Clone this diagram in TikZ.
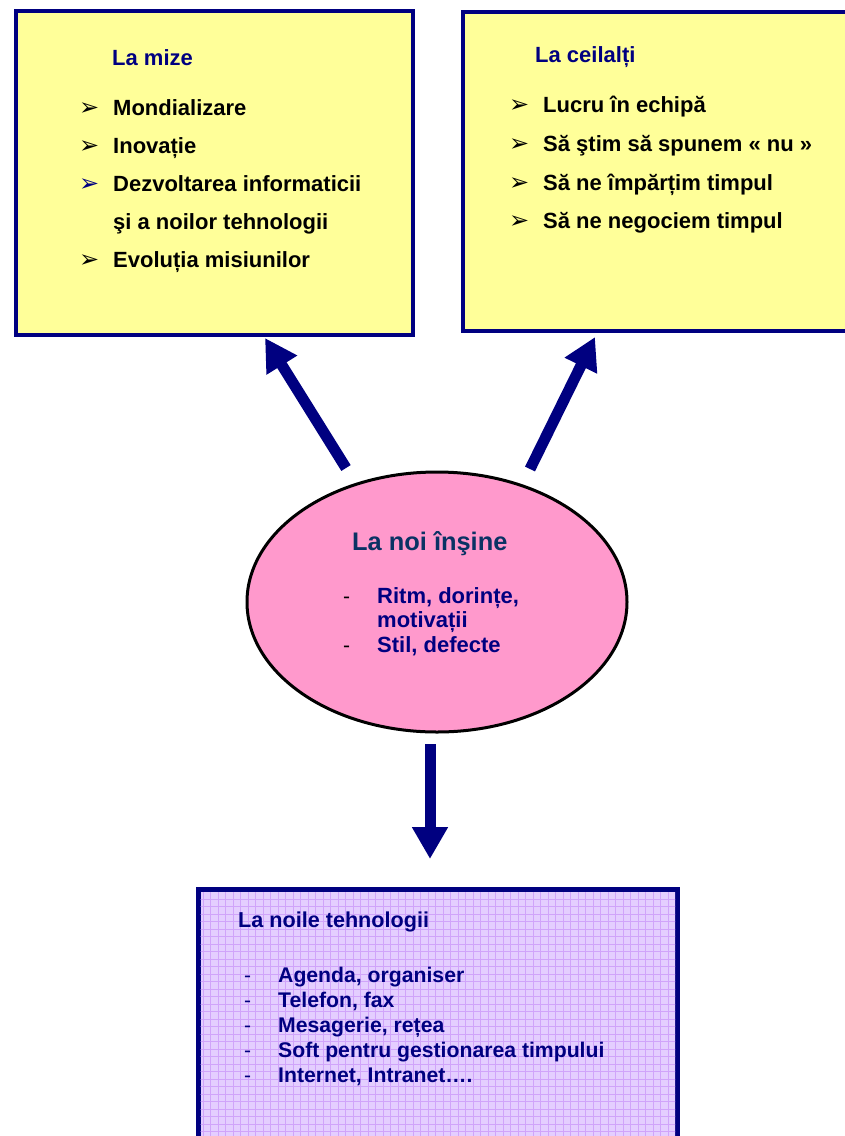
\documentclass[tikz,border=0pt]{standalone}
\usepackage{fontspec}
\setmainfont{Liberation Sans}
\newfontfamily\dvfont{DejaVu Sans}
\usetikzlibrary{shapes.geometric,arrows.meta}
\definecolor{navy}{RGB}{0,0,128}
\definecolor{ylw}{RGB}{255,255,153}
\definecolor{pinkf}{RGB}{255,153,204}
\definecolor{lav}{RGB}{228,206,255}
\definecolor{gridc}{RGB}{208,164,250}
\definecolor{tealnavy}{RGB}{10,50,100}
\begin{document}
\begin{tikzpicture}[x=1pt,y=-1pt,
 ybox/.style={draw=navy, line width=4pt, fill=ylw, inner sep=0pt},
 txt/.style={anchor=base west, inner sep=0pt, font=\fontsize{22}{26}\selectfont\bfseries},
 txtb/.style={anchor=base west, inner sep=0pt, font=\fontsize{21.2}{25}\selectfont\bfseries},
 bul/.style={anchor=base west, inner sep=0pt, font=\dvfont\fontsize{24}{28}\selectfont},
 dsh/.style={anchor=base west, inner sep=0pt, font=\fontsize{21}{25}\selectfont},
 arr/.style={navy, line width=11pt, -{Triangle[length=32pt,width=34pt]}},
]
\useasboundingbox (0,0) rectangle (845,1136);
\clip (0,0) rectangle (845,1136);

% boxes
\node[ybox, minimum width=397pt, minimum height=324pt] (mize) at (214.5,173) {};
\node[ybox, minimum width=400pt, minimum height=318.5pt] (ceil) at (663,171.25) {};
\node[draw=navy, line width=5pt, fill=lav, inner sep=0pt, minimum width=479.5pt, minimum height=280pt] (tech) at (437.75,1029.5) {};
\begin{scope}
\clip (200.5,892.5) rectangle (675,1136);
\foreach \i in {0,...,64} \draw[gridc, line width=0.7pt] ({203.3+7.5*\i},889) -- ({203.3+7.5*\i},1140);
\foreach \j in {0,...,34} \draw[gridc, line width=0.7pt] (197,{891.7+7.5*\j}) -- (678,{891.7+7.5*\j});
\end{scope}

% ellipse
\node[ellipse, draw=black, line width=3pt, fill=pinkf, minimum width=380pt, minimum height=260pt, inner sep=0pt] (noi) at (437,602) {};

% left box text
\node[txt, text=navy] (t1) at (112,65) {La mize};
\node[bul] (b11) at (79,115) {➢};
\node[txt] (i11) at (113,115) {Mondializare};
\node[bul] (b12) at (79,153) {➢};
\node[txt] (i12) at (113,153) {Inovație};
\node[bul, text=navy] (b13) at (79,191) {➢};
\node[txt] (i13) at (113,191) {Dezvoltarea informaticii};
\node[txt] (i13b) at (113,229) {şi a noilor tehnologii};
\node[bul] (b14) at (79,267) {➢};
\node[txt] (i14) at (113,267) {Evoluția misiunilor};

% right box text
\node[txt, text=navy] (t2) at (535,62) {La ceilalți};
\node[bul] (b21) at (509,112) {➢};
\node[txt] (i21) at (543,112) {Lucru în echipă};
\node[bul] (b22) at (509,151) {➢};
\node[txt] (i22) at (543,151) {Să ştim să spunem « nu »};
\node[bul] (b23) at (509,190) {➢};
\node[txt] (i23) at (543,190) {Să ne împărțim timpul};
\node[bul] (b24) at (509,228) {➢};
\node[txt] (i24) at (543,228) {Să ne negociem timpul};

% ellipse text
\node[anchor=base west, inner sep=0pt, font=\fontsize{25.4}{30}\selectfont\bfseries, text=tealnavy] (t3) at (352,550) {La noi înşine};
\node[dsh] (d31) at (343,603) {-};
\node[txt, text=navy] (i31) at (377,603) {Ritm, dorințe,};
\node[txt, text=navy] (i31b) at (377,627) {motivații};
\node[dsh] (d32) at (343,652) {-};
\node[txt, text=navy] (i32) at (377,652) {Stil, defecte};

% bottom box text
\node[anchor=base west, inner sep=0pt, font=\fontsize{21.6}{26}\selectfont\bfseries, text=navy] (t4) at (238,927) {La noile tehnologii};
\foreach \y/\n/\s in {982/1/{Agenda, organiser},1007/2/{Telefon, fax},1032/3/{Mesagerie, rețea},1057/4/{Soft pentru gestionarea timpului},1082/5/{Internet, Intranet….}}{
  \node[dsh, text=navy] (d4\n) at (244,\y) {-};
  \node[txtb, text=navy] (i4\n) at (278,\y) {\s};
}

% arrows
\coordinate (al0) at (346,468);
\coordinate (al1) at (265,338);
\coordinate (ar0) at (530,469);
\coordinate (ar1) at (595,337);
\coordinate (ad0) at (430,744);
\coordinate (ad1) at (430,859);
\draw[arr] (al0) -- (al1);
\draw[arr] (ar0) -- (ar1);
\draw[arr] (ad0) -- (ad1);
\end{tikzpicture}
\end{document}
